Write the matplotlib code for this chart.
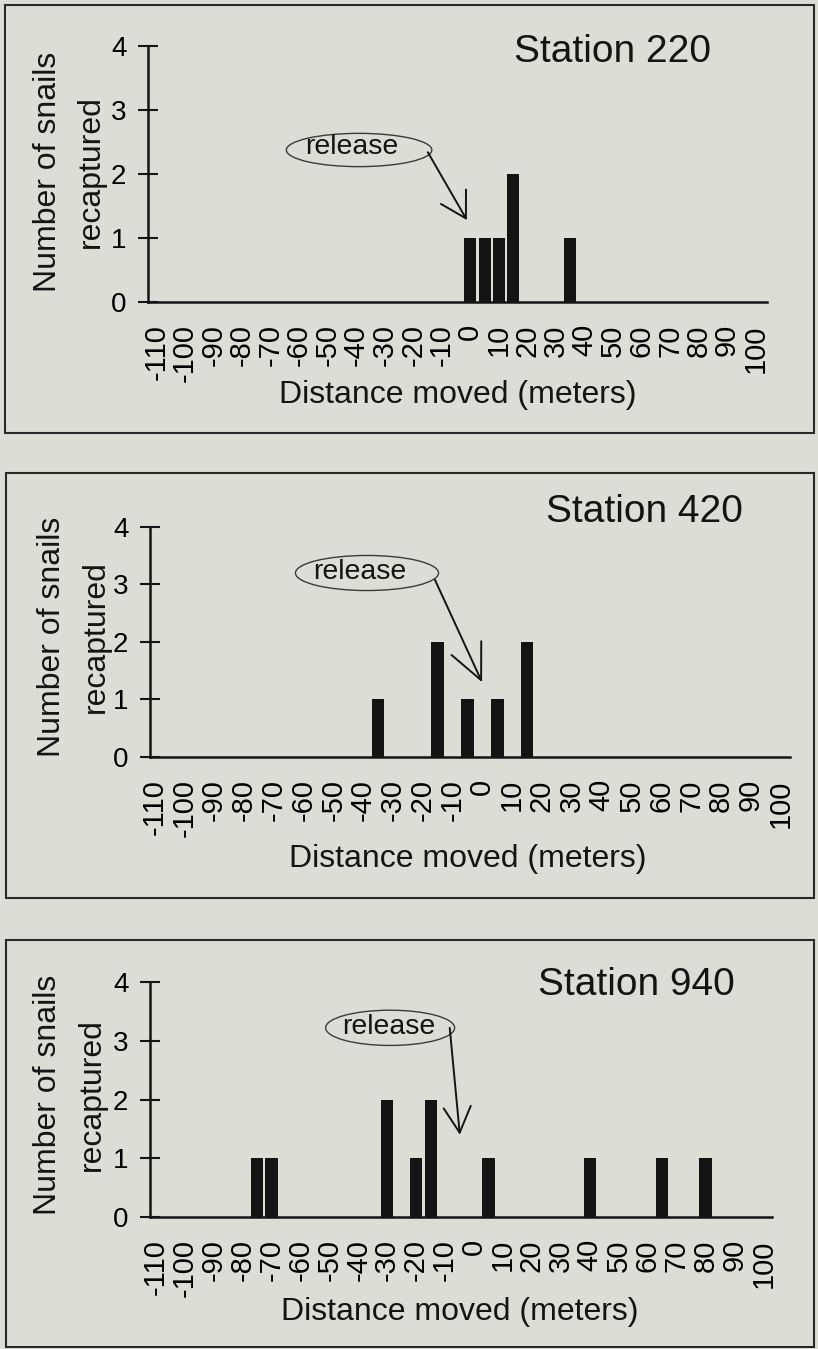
import numpy as np
import matplotlib
matplotlib.use('Agg')
import matplotlib.pyplot as plt
from matplotlib.patches import Ellipse, Rectangle

plt.rcParams['font.family'] = ['Liberation Sans', 'DejaVu Sans']

# Distancia movida (m) y número de caracoles recapturados en cada estación
stations = ['Station 220', 'Station 420', 'Station 940']
dist_220 = [0, 5, 10, 15, 35]
count_220 = [1, 1, 1, 2, 1]
dist_420 = [-35, -15, -5, 5, 15]
count_420 = [1, 2, 1, 1, 2]
dist_940 = [-75, -70, -30, -20, -15, 5, 40, 65, 80]
count_940 = [1, 1, 2, 1, 2, 1, 1, 1, 1]
x_ticks = np.arange(-110, 101, 10)
y_ticks = [0, 1, 2, 3, 4]

W, H = 818, 1349
BG = '#dcded6'
INK = '#141414'

fig = plt.figure(figsize=(W / 100, H / 100), dpi=100, facecolor=BG)


def fx(x):
    return x / W


def fy(y):
    return 1 - y / H


# posiciones en pixeles de la imagen original
panels = [
    dict(dist=dist_220, count=count_220, title=stations[0],
         axis=(148, 767, 46, 302), xlim=(-113, 104), box=(5, 5, 814, 433),
         title_xy=(613, 62), ylab_x=(48, 91), ylab_y=172, xlab_xy=(458, 403),
         ell=(-39, 2.375, 51, 0.52), txt=(-41.7, 2.42),
         arrow=((-14.9, 2.34), (-1.2, 1.28)), head=(1.8, 1.04)),
    dict(dist=dist_420, count=count_420, title=stations[1],
         axis=(150, 790, 527, 757), xlim=(-111.5, 103.2), box=(6, 473, 814, 898),
         title_xy=(644, 522), ylab_x=(52, 96), ylab_y=637, xlab_xy=(468, 867),
         ell=(-38.7, 3.2, 48, 0.61), txt=(-41, 3.22),
         arrow=((-15.9, 3.08), (-0.1, 1.30)), head=(2.54, 1.18)),
    dict(dist=dist_940, count=count_940, title=stations[2],
         axis=(150, 772, 982, 1217), xlim=(-112, 103), box=(6, 940, 814, 1347),
         title_xy=(636, 995), ylab_x=(48, 92), ylab_y=1095, xlab_xy=(460, 1320),
         ell=(-29, 3.22, 44.6, 0.6), txt=(-29.5, 3.23),
         arrow=((-8.4, 3.22), (-4.9, 1.40)), head=(1.85, 0.98)),
]

for p in panels:
    # marco de cada panel
    x0, y0, x1, y1 = p['box']
    fig.add_artist(Rectangle((fx(x0), fy(y1)), (x1 - x0) / W, (y1 - y0) / H,
                             transform=fig.transFigure, fill=False,
                             lw=1.5, ec='#2a2a2a'))

    l, r, t, b = p['axis']
    ax = fig.add_axes([fx(l), fy(b), (r - l) / W, (b - t) / H])
    ax.set_facecolor('none')
    ax.bar(p['dist'], p['count'], width=4.2, color=INK, zorder=3)
    ax.set_xlim(*p['xlim'])
    ax.set_ylim(0, 4)
    ax.set_xticks(x_ticks)
    ax.set_xticklabels([str(v) for v in x_ticks])
    ax.set_yticks(y_ticks)
    ax.tick_params(axis='x', length=0, pad=16, labelsize=21, labelrotation=90)
    ax.tick_params(axis='y', direction='inout', length=15, width=1.5,
                   pad=8, labelsize=20, color=INK)
    for s in ['top', 'right']:
        ax.spines[s].set_visible(False)
    for s in ['left', 'bottom']:
        ax.spines[s].set_linewidth(1.8)
        ax.spines[s].set_color(INK)

    # etiqueta "release" con su flecha
    ex, ey, ew, eh = p['ell']
    ax.add_patch(Ellipse((ex, ey), ew, eh, fill=False, ec='#3a3a3a', lw=1.0))
    ax.text(p['txt'][0], p['txt'][1], 'release', fontsize=20.5,
            ha='center', va='center', color=INK)
    hl, hw = p['head']
    ax.annotate('', xy=p['arrow'][1], xytext=p['arrow'][0],
                arrowprops=dict(arrowstyle=f'->,head_length={hl},head_width={hw}',
                                lw=1.4, color=INK, shrinkA=0, shrinkB=0,
                                mutation_scale=10))

    fig.text(fx(p['title_xy'][0]), fy(p['title_xy'][1]), p['title'],
             fontsize=28, ha='center', va='baseline', color=INK)
    fig.text(fx(p['xlab_xy'][0]), fy(p['xlab_xy'][1]), 'Distance moved (meters)',
             fontsize=23, ha='center', va='baseline', color=INK)
    fig.text(fx(p['ylab_x'][0]), fy(p['ylab_y']), 'Number of snails',
             fontsize=23, rotation=90, ha='center', va='center', color=INK)
    fig.text(fx(p['ylab_x'][1]), fy(p['ylab_y']), 'recaptured',
             fontsize=23, rotation=90, ha='center', va='center', color=INK)

fig.savefig('out.png', dpi=100, facecolor=BG)
